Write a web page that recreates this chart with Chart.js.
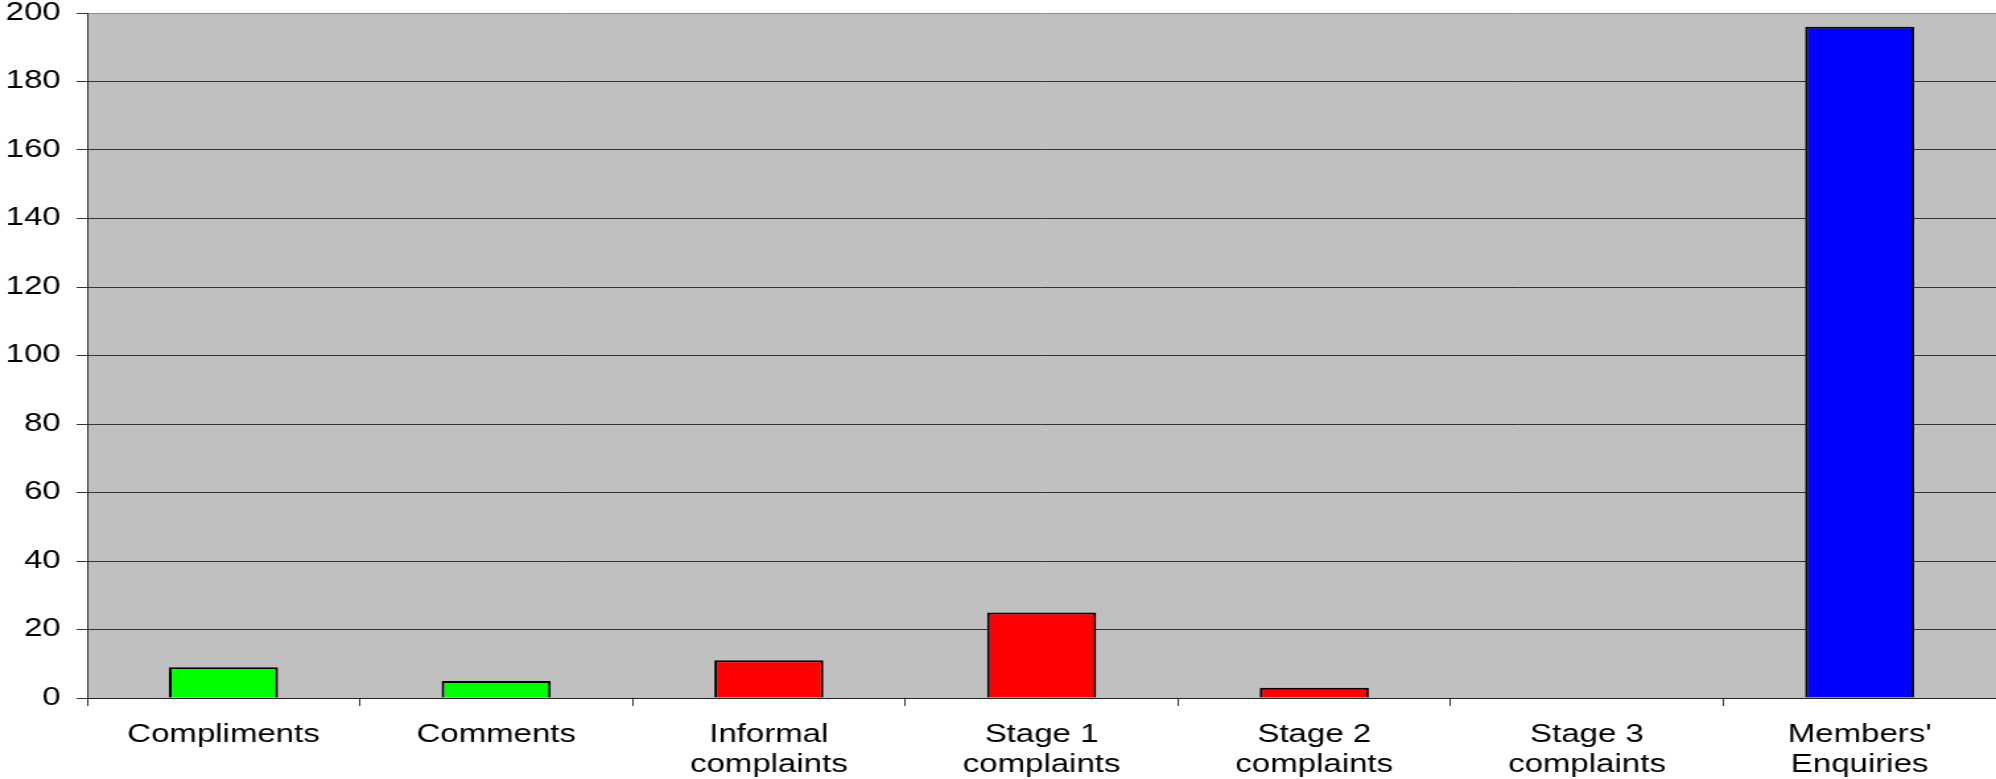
<!DOCTYPE html>
<html>
<head>
<meta charset="utf-8">
<script src="https://cdn.jsdelivr.net/npm/chart.js@4/dist/chart.umd.min.js"></script>
<style>
  html, body { margin: 0; padding: 0; background: #fff; overflow: hidden; }
</style>
</head>
<body>
<!-- the canvas is drawn narrower and widened by CSS, giving the broad lettering -->
<canvas id="c" width="1512" height="779" style="display:block;width:1996px;height:779px"></canvas>
<script>
const categories = [
  ['Compliments'],
  ['Comments'],
  ['Informal', 'complaints'],
  ['Stage 1', 'complaints'],
  ['Stage 2', 'complaints'],
  ['Stage 3', 'complaints'],
  ["Members'", 'Enquiries']
];
const counts = [9, 5, 11, 25, 3, 0, 196];
const yTicks = [0, 20, 40, 60, 80, 100, 120, 140, 160, 180, 200];
const barColors = ['#00FF00', '#00FF00', '#FF0000', '#FF0000', '#FF0000', '#FF0000', '#0000FF'];

const FONT = '"Liberation Sans", Arial, sans-serif';

// grey plot area behind the bars
const plotBackground = {
  id: 'plotBackground',
  beforeDraw(chart) {
    const { ctx, chartArea: a } = chart;
    ctx.save();
    ctx.fillStyle = '#C0C0C0';
    ctx.fillRect(a.left, a.top, a.right - a.left, a.bottom - a.top);
    ctx.restore();
  }
};

new Chart(document.getElementById('c'), {
  type: 'bar',
  data: {
    labels: categories,
    datasets: [{
      data: counts,
      backgroundColor: barColors,
      borderColor: '#000',
      borderWidth: 2,
      borderSkipped: 'start',
      categoryPercentage: 1.0,
      barPercentage: 0.4
    }]
  },
  options: {
    responsive: false,
    animation: false,
    devicePixelRatio: 1,
    layout: { padding: { top: 13, right: 0, bottom: 0, left: 0 } },
    plugins: {
      legend: { display: false },
      tooltip: { enabled: false }
    },
    scales: {
      x: {
        offset: true,
        afterFit(scale) { scale.height = 81; },
        grid: {
          offset: true,
          drawOnChartArea: true,
          drawTicks: true,
          tickLength: 8,
          tickColor: '#333',
          lineWidth: 1,
          color: (c) => (c.type === 'tick' ? 'rgba(0,0,0,0)' : '#8c8c8c')
        },
        border: { display: true, color: '#222', width: 1 },
        ticks: {
          autoSkip: false,
          maxRotation: 0,
          minRotation: 0,
          padding: 14,
          color: '#000',
          font: { family: FONT, size: 25, lineHeight: 1.2 }
        }
      },
      y: {
        min: 0,
        max: 200,
        afterFit(scale) {
          scale.width = 66;
          // the top label may run past the plot edge, as in the printed report
          scale.paddingTop = 0;
          scale.paddingBottom = 0;
        },
        afterBuildTicks(scale) { scale.ticks = yTicks.map((v) => ({ value: v })); },
        grid: {
          drawTicks: true,
          tickLength: 8,
          tickColor: '#333',
          lineWidth: 1,
          color: (c) => (c.tick && c.tick.value === 200 ? '#8c8c8c' : '#333')
        },
        border: { display: true, color: '#333', width: 1 },
        ticks: {
          padding: 12,
          color: '#000',
          font: { family: FONT, size: 25, lineHeight: 1 }
        }
      }
    }
  },
  plugins: [plotBackground]
});
</script>
</body>
</html>
